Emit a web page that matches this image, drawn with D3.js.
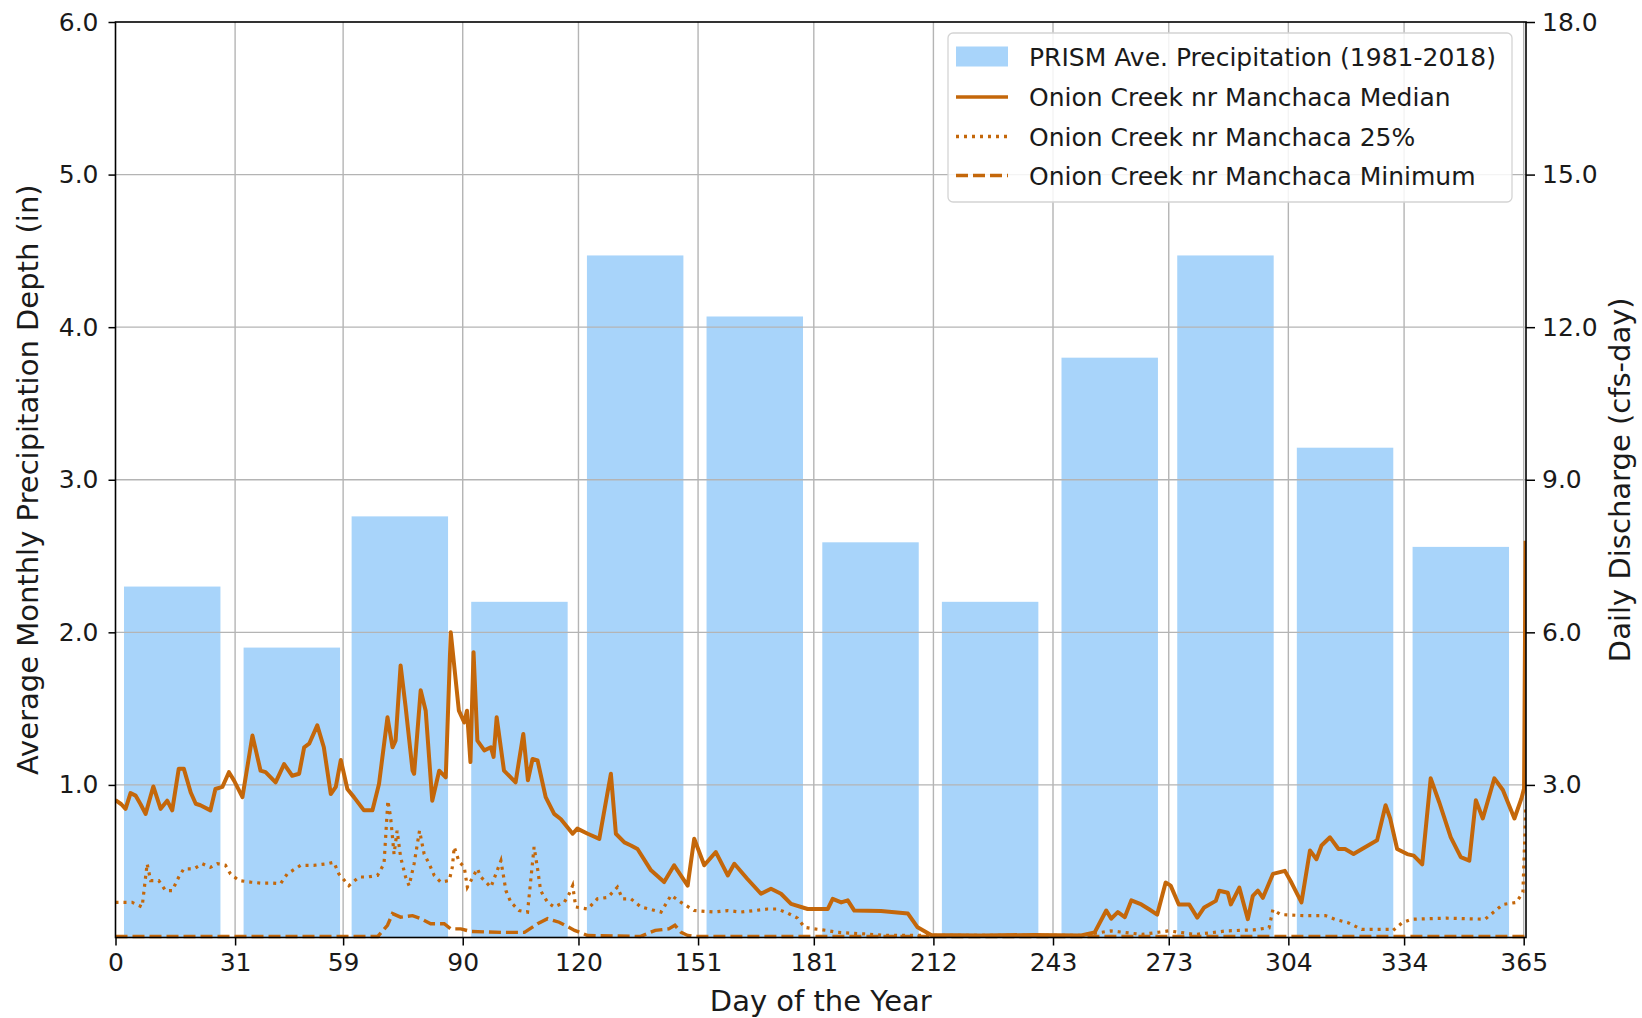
<!DOCTYPE html>
<html>
<head>
<meta charset="utf-8">
<script src="https://cdn.jsdelivr.net/npm/d3@7"></script>
<style>
  html, body { margin: 0; padding: 0; background: #ffffff; }
  svg { display: block; }
  text { font-family: "DejaVu Sans", sans-serif; fill: #1a1a1a; }
</style>
</head>
<body>
<svg id="chart" width="1642" height="1018"></svg>
<script>
// ---------------- DATA ----------------
const monthStarts = [0, 31, 59, 90, 120, 151, 181, 212, 243, 273, 304, 334];
const xTickValues = [0, 31, 59, 90, 120, 151, 181, 212, 243, 273, 304, 334, 365];
const leftTickValues = [1, 2, 3, 4, 5, 6];
const rightTickValues = [3, 6, 9, 12, 15, 18];

// PRISM average monthly precipitation (in), Jan..Dec
const precipitation = [2.30, 1.90, 2.76, 2.20, 4.47, 4.07, 2.59, 2.20, 3.80, 4.47, 3.21, 2.56];

// Daily discharge (cfs-day): [day, value]
const medianFlow = [
  [0,2.70],[1.5,2.62],[2.6,2.53],[3.9,2.84],[5.2,2.79],[6.5,2.62],[7.8,2.43],[9.8,2.97],[11.7,2.53],[13.4,2.69],
  [14.7,2.50],[16.4,3.32],[17.7,3.32],[19.5,2.85],[20.8,2.63],[22,2.60],[24.6,2.50],[25.9,2.92],[27.7,2.96],[29.4,3.25],
  [30.7,3.09],[32.9,2.76],[35.5,3.97],[37.6,3.28],[38.9,3.25],[41.5,3.05],[43.7,3.41],[45.8,3.18],[47.6,3.22],[48.9,3.74],
  [50.2,3.81],[52.3,4.17],[54,3.74],[55.8,2.82],[57.1,2.96],[58.4,3.49],[60.1,2.92],[61.8,2.76],[64.4,2.50],[66.6,2.50],
  [68.3,3.02],[70.5,4.33],[71.8,3.74],[72.6,3.87],[73.9,5.35],[75.2,4.53],[77,3.28],[77.4,3.22],[79.1,4.86],[80.4,4.46],
  [82.1,2.69],[83.9,3.28],[85.6,3.15],[86.9,6.0],[89,4.46],[90.4,4.23],[91.1,4.46],[92,3.45],[92.8,5.61],[93.8,3.87],
  [95.6,3.68],[97.3,3.74],[98,3.55],[98.8,4.33],[100.7,3.28],[103.7,3.05],[105.7,4.0],[106.9,3.09],[108.1,3.51],[109.4,3.48],
  [111.5,2.76],[113.7,2.43],[115.4,2.33],[118.5,2.04],[119.7,2.14],[122.4,2.04],[125.4,1.94],[128.4,3.22],[129.7,2.04],[131.9,1.87],
  [133.6,1.81],[135.3,1.74],[138.8,1.32],[142.2,1.09],[144.8,1.42],[148.3,1.02],[150,1.94],[152.6,1.42],[155.6,1.68],[158.7,1.22],
  [160.4,1.45],[163.8,1.15],[167.3,0.86],[169.9,0.96],[172.5,0.86],[175.1,0.66],[179.4,0.56],[184.6,0.56],[185.9,0.76],[188.1,0.69],
  [189.8,0.73],[191.5,0.53],[198.4,0.52],[205.4,0.47],[207.9,0.20],[211.4,0.05],[224.4,0.04],[238.2,0.05],[250.3,0.04],[253.8,0.10],
  [256.8,0.53],[258.1,0.37],[259.8,0.50],[261.6,0.40],[263.3,0.73],[265.9,0.65],[268,0.55],[270,0.45],[272.2,1.08],[273.5,1.02],
  [275.6,0.65],[278.3,0.65],[280.4,0.39],[282.2,0.59],[285.2,0.72],[286.1,0.92],[288.3,0.88],[289.1,0.65],[291.3,0.98],[293.5,0.36],
  [294.8,0.82],[296.1,0.92],[297.4,0.78],[300,1.25],[303.1,1.31],[304.8,1.08],[307.4,0.69],[309.6,1.71],[311.3,1.54],[312.6,1.81],
  [314.8,1.97],[317,1.74],[318.7,1.74],[320.9,1.64],[323.1,1.74],[327,1.91],[329.2,2.60],[330.4,2.34],[332.2,1.74],[334.8,1.64],
  [336.5,1.61],[338.7,1.44],[340.9,3.13],[343.1,2.66],[346.1,1.97],[348.7,1.58],[350.9,1.51],[352.6,2.70],[354.4,2.34],[357.4,3.13],
  [359.6,2.90],[362.6,2.34],[364.4,2.73],[365.1,2.93],[365.5,7.8]
];

const pct25Flow = [
  [0,0.69],[4.3,0.69],[6.9,0.60],[8.2,1.45],[9.1,1.12],[11.2,1.12],[13,0.92],[14.7,0.92],[16.4,1.19],[17.7,1.35],
  [20.3,1.35],[22.5,1.45],[24.6,1.38],[26.4,1.45],[28.5,1.42],[29.8,1.25],[32,1.12],[35,1.09],[37.6,1.07],[40.6,1.07],
  [42.8,1.06],[44.5,1.25],[48,1.42],[51.4,1.42],[54.9,1.45],[56.6,1.48],[57.9,1.25],[60.5,1.02],[63.1,1.19],[65.3,1.19],
  [67.9,1.22],[69.6,1.45],[70.6,2.69],[71.3,2.37],[72.2,1.64],[73,2.10],[73.9,1.58],[75.2,1.19],[76.1,1.02],[77.4,1.45],
  [78.8,2.10],[80,1.64],[81.3,1.45],[82.6,1.22],[84.3,1.09],[86.5,1.12],[87.3,1.38],[87.8,1.78],[89,1.50],[90.4,1.38],
  [91.2,0.99],[93.8,1.35],[94.7,1.19],[97.3,0.99],[99.9,1.51],[101.2,0.92],[102.5,0.69],[104.6,0.53],[106.8,0.50],[108.5,1.78],
  [109.4,1.35],[110.2,0.92],[112,0.69],[113.7,0.60],[116.3,0.69],[117.6,0.86],[118.5,1.02],[119.3,0.60],[122.4,0.56],[124.9,0.76],
  [127.6,0.79],[130.1,0.99],[131.4,0.76],[133.6,0.76],[136.2,0.60],[141.4,0.50],[144,0.83],[146.6,0.69],[150,0.53],[155.2,0.50],
  [158.7,0.53],[162.1,0.50],[165.6,0.53],[169,0.56],[171.6,0.56],[174.2,0.48],[176.8,0.38],[178.6,0.20],[181.1,0.17],[184.2,0.14],
  [187.2,0.10],[194.1,0.07],[200,0.04],[250,0.04],[258,0.13],[266,0.06],[273,0.13],[280,0.06],[288,0.13],[295,0.15],
  [299,0.19],[300,0.55],[302,0.45],[308,0.43],[313.6,0.43],[316,0.36],[319.5,0.29],[323,0.16],[330,0.16],[331,0.13],
  [333.5,0.29],[336,0.36],[345,0.38],[355,0.36],[359.6,0.65],[363.1,0.69],[364.8,0.89],[365.3,2.0],[365.5,2.6]
];

const minFlow = [
  [0,0.02],[68,0.02],[70.5,0.24],[71.8,0.47],[73.9,0.40],[77,0.43],[79.1,0.37],[81.7,0.27],[85.2,0.27],[86.9,0.17],
  [89.5,0.17],[92,0.12],[100,0.10],[106,0.10],[109.4,0.27],[112,0.37],[115,0.30],[119,0.14],[122.4,0.04],[136,0.02],
  [139.9,0.14],[143.4,0.17],[145,0.24],[146.6,0.10],[148.3,0.04],[150,0.02],[365.5,0.02]
];

const legendLabels = [
  "PRISM Ave. Precipitation (1981-2018)",
  "Onion Creek nr Manchaca Median",
  "Onion Creek nr Manchaca 25%",
  "Onion Creek nr Manchaca Minimum"
];

// ---------------- LAYOUT / STYLE ----------------
const L = 115.5, R = 1526, T = 22, B = 937.5;
const barColor = "rgb(131,194,248)";
const lineColor = "#c4670a";
const gridColor = "#b4b4b4";

const svg = d3.select("#chart");
svg.append("rect").attr("width", 1642).attr("height", 1018).attr("fill", "#fff");

const x = d3.scaleLinear().domain([0, 365.6]).range([L, R]);
const yL = d3.scaleLinear().domain([0, 6]).range([B, T]);
const yR = d3.scaleLinear().domain([0, 18]).range([B, T]);

// bars
const barWidthDays = 25;
svg.append("g").selectAll("rect").data(precipitation).join("rect")
  .attr("x", (d, i) => x(monthStarts[i] + 14.7 - barWidthDays / 2))
  .attr("width", x(barWidthDays) - x(0))
  .attr("y", d => yL(d))
  .attr("height", d => yL(0) - yL(d))
  .attr("fill", barColor)
  .attr("fill-opacity", 0.7);

// grid
const grid = svg.append("g");
grid.selectAll("line.v").data(xTickValues.filter(d => d > 0)).join("line")
  .attr("x1", d => x(d)).attr("x2", d => x(d)).attr("y1", T).attr("y2", B)
  .attr("stroke", gridColor).attr("stroke-width", 1.4);
grid.selectAll("line.h").data(leftTickValues.filter(d => d < 6)).join("line")
  .attr("x1", L).attr("x2", R).attr("y1", d => yL(d)).attr("y2", d => yL(d))
  .attr("stroke", gridColor).attr("stroke-width", 1.4);

// lines
const line = d3.line().x(d => x(d[0])).y(d => yR(d[1]));
svg.append("clipPath").attr("id", "clip").append("rect")
  .attr("x", L).attr("y", T).attr("width", R - L).attr("height", B - T + 2);
const lines = svg.append("g").attr("clip-path", "url(#clip)");
lines.append("path").datum(minFlow).attr("d", line).attr("fill", "none")
  .attr("stroke", lineColor).attr("stroke-width", 3.4).attr("stroke-dasharray", "12,5");
lines.append("path").datum(pct25Flow).attr("d", line).attr("fill", "none")
  .attr("stroke", lineColor).attr("stroke-width", 3.2).attr("stroke-dasharray", "3,5");
lines.append("path").datum(medianFlow).attr("d", line).attr("fill", "none")
  .attr("stroke", lineColor).attr("stroke-width", 4).attr("stroke-linejoin", "round");

// axes
function styleAxis(g) {
  g.select(".domain").remove();
  g.selectAll(".tick line").attr("stroke", "#000").attr("stroke-width", 1.5);
  g.selectAll(".tick text").attr("font-family", "DejaVu Sans").attr("font-size", 25).attr("fill", "#1a1a1a");
}
svg.append("g").attr("transform", `translate(0,${B})`)
  .call(d3.axisBottom(x).tickValues(xTickValues).tickFormat(d => d).tickSize(8).tickPadding(7.5))
  .call(styleAxis);
svg.append("g").attr("transform", `translate(${L},0)`)
  .call(d3.axisLeft(yL).tickValues(leftTickValues).tickFormat(d3.format(".1f")).tickSize(7).tickPadding(10))
  .call(styleAxis);
svg.append("g").attr("transform", `translate(${R},0)`)
  .call(d3.axisRight(yR).tickValues(rightTickValues).tickFormat(d3.format(".1f")).tickSize(9).tickPadding(7))
  .call(styleAxis);

// spines
svg.append("rect").attr("x", L).attr("y", T).attr("width", R - L).attr("height", B - T)
  .attr("fill", "none").attr("stroke", "#000").attr("stroke-width", 1.6);

// axis labels
svg.append("text").attr("x", (L + R) / 2).attr("y", 1011).attr("text-anchor", "middle")
  .attr("font-size", 29).text("Day of the Year");
svg.append("text").attr("transform", `translate(38,${(T + B) / 2}) rotate(-90)`).attr("text-anchor", "middle")
  .attr("font-size", 29).text("Average Monthly Precipitation Depth (in)");
svg.append("text").attr("transform", `translate(1630,${(T + B) / 2}) rotate(-90)`).attr("text-anchor", "middle")
  .attr("font-size", 29).text("Daily Discharge (cfs-day)");

// legend
const lg = svg.append("g");
lg.append("rect").attr("x", 948).attr("y", 33).attr("width", 564).attr("height", 169).attr("rx", 5)
  .attr("fill", "#fff").attr("fill-opacity", 0.85).attr("stroke", "#d4d4d4").attr("stroke-width", 1.3);
const rowY = [56.5, 97, 136.5, 175.5];
lg.append("rect").attr("x", 956).attr("y", rowY[0] - 10).attr("width", 52).attr("height", 20)
  .attr("fill", barColor).attr("fill-opacity", 0.7);
const dashes = [null, "3,5", "12,5"];
[1, 2, 3].forEach((r, k) => {
  lg.append("line").attr("x1", 956).attr("x2", 1008).attr("y1", rowY[r]).attr("y2", rowY[r])
    .attr("stroke", lineColor).attr("stroke-width", 3.4)
    .attr("stroke-dasharray", dashes[k]);
});
lg.selectAll("text").data(legendLabels).join("text")
  .attr("x", 1029).attr("y", (d, i) => rowY[i]).attr("dy", "0.36em")
  .attr("font-size", 25).text(d => d);
</script>
</body>
</html>
